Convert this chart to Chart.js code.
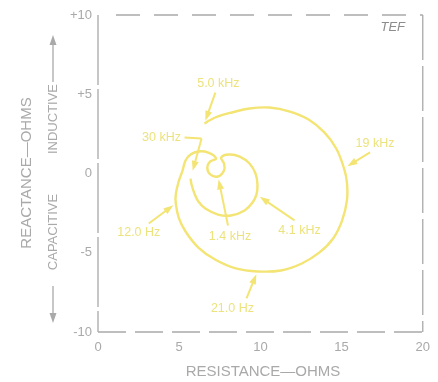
<!DOCTYPE html>
<html>
<head>
<meta charset="utf-8">
<script src="https://cdn.jsdelivr.net/npm/chart.js@4/dist/chart.umd.min.js"></script>
<style>
    html, body { margin: 0; padding: 0; background: #fff; }
    #cadre { width: 438px; height: 382px; }
</style>
</head>
<body>
<div id="cadre"><canvas id="graphique-tef"></canvas></div>
<script>
// courbe de Nyquist (résistance / réactance en ohms)
const resistance = [5.70, 5.76, 5.94, 6.18, 6.61, 7.39, 8.18, 9.03, 9.52, 9.76,
    9.82, 9.70, 9.33, 8.73, 8.06, 7.58, 7.76, 7.76, 7.39, 6.91,
    6.73, 6.91, 7.27, 6.79, 6.18, 5.70, 5.39, 5.21, 4.97, 4.79,
    4.79, 4.97, 5.39, 6.18, 7.21, 8.48, 9.82, 11.27, 12.55, 13.64,
    14.48, 15.03, 15.33, 15.33, 15.15, 14.67, 13.94, 12.97, 11.82, 10.55,
    9.33, 8.24, 7.39, 6.85, 6.55];
const reactance = [-0.32, -0.69, -1.26, -1.77, -2.21, -2.59, -2.65, -2.33, -1.83, -1.32,
    -0.69, 0.00, 0.63, 1.07, 1.20, 1.01, 0.63, 0.19, -0.19, -0.06,
    0.38, 0.76, 0.95, 1.32, 1.39, 1.20, 0.82, 0.19, -0.50, -1.32,
    -1.89, -2.78, -3.66, -4.67, -5.43, -5.99, -6.18, -6.12, -5.68, -4.98,
    -4.10, -2.97, -1.70, -0.57, 0.32, 1.58, 2.59, 3.41, 3.91, 4.16,
    4.10, 3.85, 3.60, 3.34, 3.15];

const xTicks = [0, 5, 10, 15, 20];
const yTicks = [10, 5, 0, -5, -10];

// repères de fréquence et point de la courbe visé
const marqueurs = ["30 kHz", "4.1 kHz", "1.4 kHz", "12.0 Hz", "21.0 Hz", "19 kHz", "5.0 kHz"];
const marqueursIndex = [0, 9, 18, 30, 36, 44, 54];

// placement des étiquettes (décalages en pixels depuis le point visé)
const placement = [
    { texte: [-29, -41], queue: [11, -40], coude: [-6, -41], ecart: 8 },
    { texte: [43, 36], queue: [38, 26], ecart: 4 },
    { texte: [12, 60], queue: [10, 49], ecart: 3 },
    { texte: [-37, 29], queue: [-27, 20], ecart: 3 },
    { texte: [-25, 37], queue: [-11, 27], ecart: 3 },
    { texte: [31, -25], queue: [26, -16], ecart: 4 },
    { texte: [14, -40], queue: [11, -31], ecart: 3 },
];

const JAUNE = "#f3e474";
const JAUNE_TEXTE = "#ece37e";
const GRIS = "#a9a9a9";
const POLICE = "'Liberation Sans', Arial, sans-serif";

const points = resistance.map((r, i) => ({ x: r, y: reactance[i] }));

function fleche(ctx, x1, y1, x2, y2) {
    const a = Math.atan2(y2 - y1, x2 - x1);
    ctx.beginPath();
    ctx.moveTo(x1, y1);
    ctx.lineTo(x2 - 6 * Math.cos(a), y2 - 6 * Math.sin(a));
    ctx.stroke();
    ctx.beginPath();
    ctx.moveTo(x2, y2);
    ctx.lineTo(x2 - 10 * Math.cos(a) + 3.5 * Math.sin(a), y2 - 10 * Math.sin(a) - 3.5 * Math.cos(a));
    ctx.lineTo(x2 - 10 * Math.cos(a) - 3.5 * Math.sin(a), y2 - 10 * Math.sin(a) + 3.5 * Math.cos(a));
    ctx.closePath();
    ctx.fill();
}

const decorTef = {
    id: "decorTef",
    beforeDatasetsDraw(chart) {
        const ctx = chart.ctx, a = chart.chartArea;
        ctx.save();
        ctx.strokeStyle = GRIS;
        ctx.lineWidth = 1.3;
        const cotes = [
            [a.left, a.top, a.left, a.bottom, [70, 4]],
            [a.left, a.bottom, a.right, a.bottom, [28, 9]],
            [a.left + 18, a.top, a.right, a.top, [24, 14]],
            [a.right, a.top, a.right, a.bottom, [45, 6]],
        ];
        for (const c of cotes) {
            ctx.setLineDash(c[4]);
            ctx.beginPath();
            ctx.moveTo(c[0], c[1]);
            ctx.lineTo(c[2], c[3]);
            ctx.stroke();
        }
        ctx.restore();
    },
    afterDatasetsDraw(chart) {
        const ctx = chart.ctx;
        const sx = chart.scales.x, sy = chart.scales.y;
        ctx.save();
        ctx.strokeStyle = JAUNE;
        ctx.fillStyle = JAUNE;
        ctx.lineWidth = 2;
        ctx.font = "12.5px " + POLICE;
        ctx.textAlign = "center";
        ctx.textBaseline = "middle";
        for (let i = 0; i < marqueurs.length; i++) {
            const p = points[marqueursIndex[i]];
            const px = sx.getPixelForValue(p.x), py = sy.getPixelForValue(p.y);
            const pl = placement[i];
            const qx = px + pl.queue[0], qy = py + pl.queue[1];
            const d = Math.hypot(px - qx, py - qy);
            const tx = px - (px - qx) / d * pl.ecart, ty = py - (py - qy) / d * pl.ecart;
            ctx.strokeStyle = JAUNE;
            ctx.fillStyle = JAUNE;
            if (pl.coude) {
                ctx.beginPath();
                ctx.moveTo(px + pl.coude[0], py + pl.coude[1]);
                ctx.lineTo(qx, qy);
                ctx.stroke();
            }
            fleche(ctx, qx, qy, tx, ty);
            ctx.fillStyle = JAUNE_TEXTE;
            ctx.fillText(marqueurs[i], px + pl.texte[0], py + pl.texte[1]);
        }
        ctx.restore();
    },
    afterDraw(chart) {
        const ctx = chart.ctx, a = chart.chartArea;
        ctx.save();
        ctx.fillStyle = GRIS;
        ctx.strokeStyle = GRIS;
        ctx.textAlign = "center";
        ctx.textBaseline = "middle";

        ctx.font = "15px " + POLICE;
        ctx.fillText("RESISTANCE\u2014OHMS", 263, 372);

        ctx.save();
        ctx.translate(27, 173);
        ctx.rotate(-Math.PI / 2);
        ctx.fillText("REACTANCE\u2014OHMS", 0, 0);
        ctx.restore();

        ctx.font = "13px " + POLICE;
        ctx.save();
        ctx.translate(53, 119);
        ctx.rotate(-Math.PI / 2);
        ctx.fillText("INDUCTIVE", 0, 0);
        ctx.restore();
        ctx.save();
        ctx.translate(53, 232);
        ctx.rotate(-Math.PI / 2);
        ctx.fillText("CAPACITIVE", 0, 0);
        ctx.restore();

        ctx.lineWidth = 1.3;
        fleche(ctx, 53, 82, 53, 35);
        fleche(ctx, 53, 286, 53, 323);

        ctx.fillStyle = "#8c8c8c";
        ctx.font = "italic 13px " + POLICE;
        ctx.fillText("TEF", a.right - 30, a.top + 12);
        ctx.restore();
    }
};

const data = {
    datasets: [{
        label: "Impédance",
        data: points,
        showLine: true,
        borderColor: JAUNE,
        borderWidth: 2.4,
        pointRadius: 0,
        tension: 0.4,
        fill: false,
    }],
};

const config = {
    type: "scatter",
    data: data,
    options: {
        responsive: false,
        animation: false,
        layout: { padding: { top: 15, right: 10, left: 0, bottom: 0 } },
        plugins: {
            legend: { display: false },
            tooltip: { enabled: false },
        },
        scales: {
            x: {
                min: 0,
                max: 20,
                afterFit: s => { s.height = 50; },
                afterBuildTicks: s => { s.ticks = xTicks.map(v => ({ value: v })); },
                grid: { display: false, drawTicks: false },
                border: { display: false },
                ticks: { color: GRIS, padding: 8, font: { size: 13, family: POLICE } },
            },
            y: {
                min: -10,
                max: 10,
                afterFit: s => { s.width = 98; },
                afterBuildTicks: s => { s.ticks = yTicks.map(v => ({ value: v })); },
                grid: { display: false, drawTicks: false },
                border: { display: false },
                ticks: {
                    color: GRIS,
                    padding: 6,
                    font: { size: 13, family: POLICE },
                    callback: v => v > 0 ? "+" + v : String(v),
                },
            },
        },
    },
    plugins: [decorTef],
};

const canvas = document.querySelector("#graphique-tef");
canvas.width = 438;
canvas.height = 382;
const graphiqueTef = new Chart(canvas, config);
</script>
</body>
</html>
